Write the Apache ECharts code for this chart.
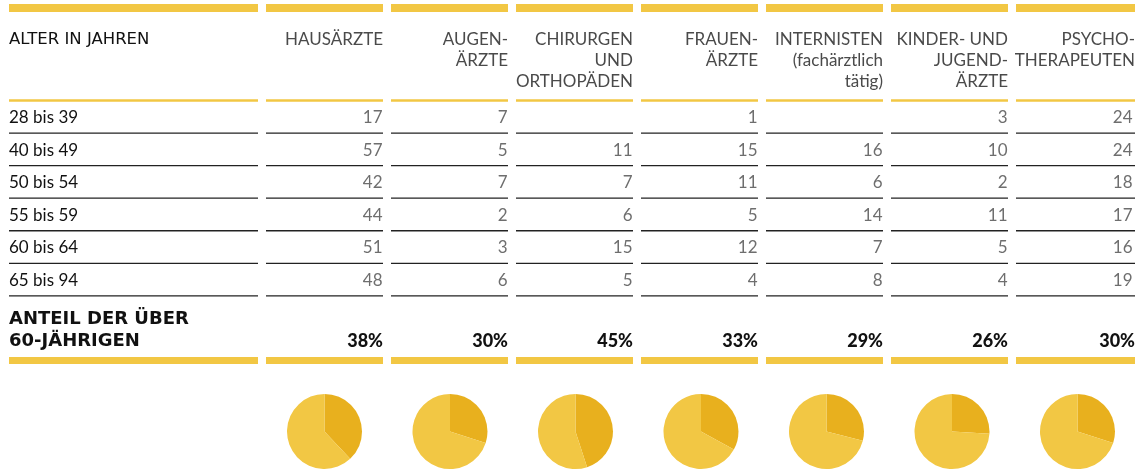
<!DOCTYPE html>
<html>
<head>
<meta charset="utf-8">
<script src="https://cdn.jsdelivr.net/npm/echarts@6/dist/echarts.min.js"></script>
<style>
  html, body { margin: 0; padding: 0; background: #fff; }
  #chart { width: 1137px; height: 471px; }
</style>
</head>
<body>
<div id="chart"></div>
<script>
// data
const ageGroups = ['28 bis 39', '40 bis 49', '50 bis 54', '55 bis 59', '60 bis 64', '65 bis 94'];
const specialties = [
  'HAUSÄRZTE',
  'AUGEN-\nÄRZTE',
  'CHIRURGEN\nUND\nORTHOPÄDEN',
  'FRAUEN-\nÄRZTE',
  'INTERNISTEN\n(fachärztlich\ntätig)',
  'KINDER- UND\nJUGEND-\nÄRZTE',
  'PSYCHO-\nTHERAPEUTEN'
];
const hausaerzte = [17, 57, 42, 44, 51, 48];
const augenaerzte = [7, 5, 7, 2, 3, 6];
const chirurgen = [null, 11, 7, 6, 15, 5];
const frauenaerzte = [1, 15, 11, 5, 12, 4];
const internisten = [null, 16, 6, 14, 7, 8];
const kinderaerzte = [3, 10, 2, 11, 5, 4];
const psychotherapeuten = [24, 24, 18, 17, 16, 19];
const shareOver60 = [38, 30, 45, 33, 29, 26, 30];

const columns = [hausaerzte, augenaerzte, chirurgen, frauenaerzte, internisten, kinderaerzte, psychotherapeuten];

// layout
const YELLOW = '#f2c744';
const DARK = '#e8b01e';
const firstCol = { x: 9, w: 249 };
const colX0 = 266, colStep = 125, colW = 117;
const headLineY = 100.5, rowH = 32.55;
const pieX0 = 324.5, pieStep = 125.5, pieY = 431.5, pieR = 37.5;

const colRects = [firstCol].concat(specialties.map((_, i) => ({
  x: colX0 + i * colStep,
  w: i === specialties.length - 1 ? 1135 - (colX0 + i * colStep) : colW
})));

const graphics = [];
colRects.forEach(c => {
  graphics.push({ type: 'rect', shape: { x: c.x, y: 4, width: c.w, height: 8 }, style: { fill: YELLOW } });
  graphics.push({ type: 'rect', shape: { x: c.x, y: headLineY - 1.2, width: c.w, height: 2.4 }, style: { fill: YELLOW } });
  ageGroups.forEach((_, r) => {
    graphics.push({ type: 'rect', shape: { x: c.x, y: headLineY + rowH * (r + 1) - 0.6, width: c.w, height: 1.3 }, style: { fill: '#222' } });
  });
  graphics.push({ type: 'rect', shape: { x: c.x, y: 357, width: c.w, height: 7 }, style: { fill: YELLOW } });
});

graphics.push({
  type: 'text',
  style: { text: 'ALTER IN JAHREN', x: 9, y: 39.5, align: 'left', verticalAlign: 'middle',
    fontFamily: 'DejaVu Sans', fontSize: 16.5, fill: '#111' }
});
specialties.forEach((name, i) => {
  const c = colRects[i + 1];
  graphics.push({
    type: 'text',
    style: { text: name, x: c.x + c.w, y: 28.5, align: 'right', verticalAlign: 'top',
      fontFamily: 'Lato', fontWeight: 'normal', fontSize: 17, lineHeight: 21.3, fill: '#4a4a4a' }
  });
});
graphics.push({
  type: 'text',
  style: { text: 'ANTEIL DER ÜBER\n60-JÄHRIGEN', x: 9, y: 309, align: 'left', verticalAlign: 'top',
    fontFamily: 'DejaVu Sans', fontWeight: 'bold', fontSize: 18, lineHeight: 21.5, fill: '#111' }
});
shareOver60.forEach((p, i) => {
  const c = colRects[i + 1];
  graphics.push({
    type: 'text',
    style: { text: p + '%', x: c.x + c.w, y: 341, align: 'right', verticalAlign: 'middle',
      fontFamily: 'Lato', fontWeight: 900, fontSize: 18, fill: '#111' }
  });
});

const cellData = [];
columns.forEach((col, ci) => {
  col.forEach((v, ri) => {
    if (v !== null) cellData.push([ci, ri, v]);
  });
});

const pies = shareOver60.map((p, i) => ({
  type: 'pie',
  silent: true,
  center: [pieX0 + i * pieStep, pieY],
  radius: pieR,
  startAngle: 90,
  clockwise: true,
  label: { show: false },
  labelLine: { show: false },
  itemStyle: { borderWidth: 0 },
  data: [
    { value: p, itemStyle: { color: DARK } },
    { value: 100 - p, itemStyle: { color: YELLOW } }
  ]
}));

const chart = echarts.init(document.getElementById('chart'));
chart.setOption({
  animation: false,
  grid: { left: 262, width: 875, top: headLineY + 1, height: rowH * ageGroups.length },
  xAxis: { type: 'category', data: specialties, show: false },
  yAxis: {
    type: 'category',
    data: ageGroups,
    inverse: true,
    axisLine: { show: false },
    axisTick: { show: false },
    splitLine: { show: false },
    axisLabel: { align: 'left', margin: 253, fontFamily: 'Lato', fontSize: 17, color: '#111' }
  },
  series: [{
    type: 'scatter',
    silent: true,
    symbolSize: 0,
    data: cellData,
    label: {
      show: true,
      position: 'inside',
      align: 'right',
      offset: [58, 0],
      formatter: p => p.value[2],
      fontFamily: 'Lato',
      fontWeight: 'normal',
      fontSize: 17,
      color: '#4a4a4a'
    }
  }].concat(pies),
  graphic: graphics
});
</script>
</body>
</html>
